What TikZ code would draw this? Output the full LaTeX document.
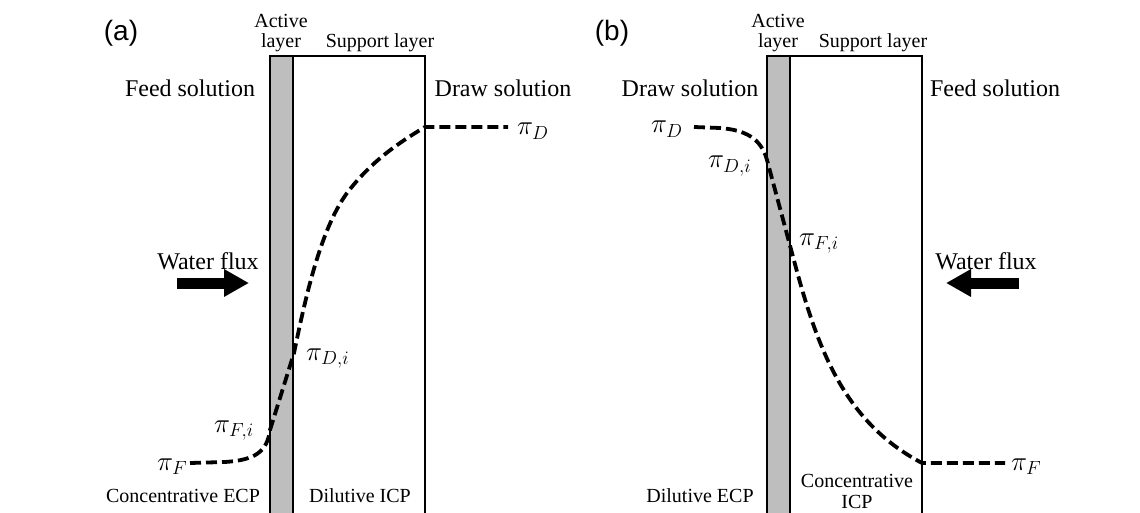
\documentclass[tikz,border=0pt]{standalone}
\usepackage{fix-cm}
\usepackage{fontspec}
\setmainfont{Liberation Serif}
\newfontfamily\panelfont{Liberation Sans}
\usetikzlibrary{arrows.meta}
\DeclareMathSizes{27}{27}{19}{14}
\definecolor{layergray}{RGB}{190,190,190}
\tikzset{
  big/.style={font=\fontsize{24}{26}\selectfont, inner sep=0pt},
  small/.style={font=\fontsize{20}{20}\selectfont, inner sep=0pt, align=center},
  panel/.style={font=\panelfont\fontsize{28}{30}\selectfont, inner sep=0pt},
  mlab/.style={font=\fontsize{27}{30}\selectfont, inner sep=0pt, anchor=base west},
  wall/.style={line width=2.5pt},
  profile/.style={line width=3.8pt, dash pattern=on 11pt off 5pt},
  flux/.style={line width=11pt, -{Triangle[length=25pt,width=26pt]}},
}
\begin{document}
\begin{tikzpicture}[x=1pt,y=-1pt]
\useasboundingbox (0,0) rectangle (1140,513);

% ---------- panel (a) ----------
\node[panel, anchor=base] (pa) at (121,41) {(a)};
\filldraw[wall, fill=layergray] (270,56) rectangle (293,520);
\draw[wall] (293,56) rectangle (425,520);
\node[small, anchor=base] (acta) at (281,28) {Active};
\node[small, anchor=base] (laya) at (281,48) {layer};
\node[small, anchor=base] (supa) at (380,48) {Support layer};
\node[big, anchor=base] (feeda) at (190,97) {Feed solution};
\node[big, anchor=base] (drawa) at (503,97) {Draw solution};
\node[big, anchor=base] (wfa) at (208,269) {Water flux};
\node[small, anchor=base] (ecpa) at (183,502) {Concentrative ECP};
\node[small, anchor=base] (icpa) at (360,502) {Dilutive ICP};

\coordinate (aF) at (190,463);
\coordinate (aF1) at (225,462);
\coordinate (aFi) at (270,430);
\coordinate (aDi) at (294,353);
\coordinate (aM) at (347,193);
\coordinate (aD1) at (425,127);
\coordinate (aD) at (508,127);
\draw[profile] (aF) -- (aF1) .. controls (255,460) and (267,452) .. (aFi)
  -- (aDi) .. controls (305,300) and (320,230) .. (aM)
  .. controls (370,163) and (395,145) .. (aD1) -- (aD);

\node[mlab] (piDa) at (517,135) {$\pi_D$};
\node[mlab] (piDia) at (306,360) {$\pi_{D,i}$};
\node[mlab] (piFia) at (214,432) {$\pi_{F,i}$};
\node[mlab] (piFa) at (157,470) {$\pi_F$};

\coordinate (fa1) at (177,283);
\coordinate (fa2) at (249,283);
\draw[flux] (fa1) -- (fa2);

% ---------- panel (b) ----------
\node[panel, anchor=base] (pb) at (612,41) {(b)};
\filldraw[wall, fill=layergray] (767,56) rectangle (790,520);
\draw[wall] (790,56) rectangle (922,520);
\node[small, anchor=base] (actb) at (778,28) {Active};
\node[small, anchor=base] (layb) at (778,48) {layer};
\node[small, anchor=base] (supb) at (873,48) {Support layer};
\node[big, anchor=base] (drawb) at (690,97) {Draw solution};
\node[big, anchor=base] (feedb) at (995,97) {Feed solution};
\node[big, anchor=base] (wfb) at (986,269) {Water flux};
\node[small, anchor=base] (ecpb) at (700,502) {Dilutive ECP};
\node[small, anchor=base] (icpb1) at (857,487) {Concentrative};
\node[small, anchor=base] (icpb2) at (857,508) {ICP};

\coordinate (bD) at (694,127);
\coordinate (bD1) at (720,128);
\coordinate (bDi) at (767,160);
\coordinate (bFi) at (792,253);
\coordinate (bF1) at (922,463);
\coordinate (bF) at (1005,463);
\draw[profile] (bD) -- (bD1) .. controls (745,130) and (761,138) .. (bDi)
  -- (bFi) .. controls (815,340) and (840,420) .. (bF1) -- (bF);

\node[mlab] (piDb) at (651,133) {$\pi_D$};
\node[mlab] (piDib) at (708,168) {$\pi_{D,i}$};
\node[mlab] (piFib) at (799,245) {$\pi_{F,i}$};
\node[mlab] (piFb) at (1011,470) {$\pi_F$};

\coordinate (fb1) at (1019,283);
\coordinate (fb2) at (946,283);
\draw[flux] (fb1) -- (fb2);
\end{tikzpicture}
\end{document}
